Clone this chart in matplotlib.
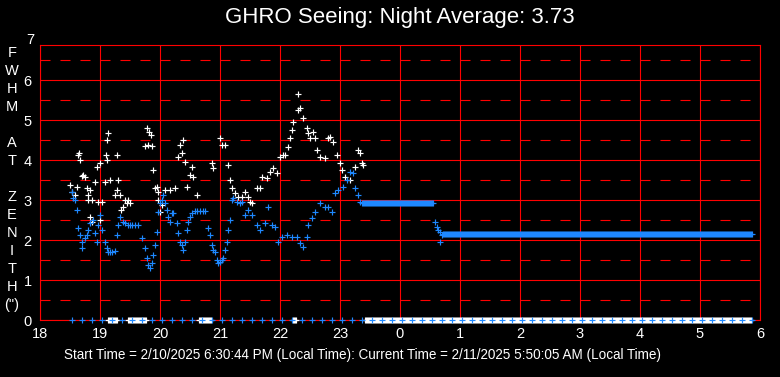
"""
Seeing chart: FWHM at zenith over the night (raw points in white,
running average in blue), red grid on black.
"""

import numpy as np
import matplotlib
matplotlib.use("Agg")
import matplotlib.pyplot as plt

plt.rcParams["font.family"] = ["Liberation Sans", "DejaVu Sans"]

TITLE = "GHRO Seeing: Night Average: 3.73"
FOOTER = ("Start Time = 2/10/2025 6:30:44 PM (Local Time): "
          "Current Time = 2/11/2025 5:50:05 AM (Local Time)")
YLABEL_LINES = ["F", "W", "H", "M", "", "A", "T", "", "Z", "E", "N", "I", "T", "H", "(\")"]

X_TICKS = list(range(18, 31))
X_TICK_LABELS = ["18", "19", "20", "21", "22", "23", "0", "1", "2", "3", "4", "5", "6"]
Y_TICKS = list(range(0, 7))

# raw seeing measurements (hours since midnight of start day, arcsec)
white_hours = [18.50, 18.53, 18.58, 18.62, 18.63, 18.65, 18.67, 18.70, 18.72, 18.75,
               18.78, 18.80, 18.80, 18.83, 18.83, 18.87, 18.87, 18.92, 18.95, 18.97,
               19.00, 19.00, 19.03, 19.08, 19.10, 19.12, 19.12, 19.13, 19.17, 19.25,
               19.28, 19.28, 19.30, 19.33, 19.35, 19.38, 19.42, 19.45, 19.47, 19.50,
               19.75, 19.78, 19.80, 19.82, 19.85, 19.87, 19.88, 19.92, 19.95, 19.97,
               19.97, 20.00, 20.03, 20.08, 20.17, 20.25, 20.30, 20.33, 20.37, 20.38,
               20.42, 20.45, 20.50, 20.53, 20.55, 20.62, 20.87, 20.88, 21.00, 21.03,
               21.08, 21.13, 21.17, 21.20, 21.25, 21.30, 21.37, 21.42, 21.47, 21.50,
               21.53, 21.62, 21.67, 21.70, 21.78, 21.83, 21.88, 21.95, 22.00, 22.05,
               22.08, 22.13, 22.17, 22.20, 22.22, 22.30, 22.30, 22.33, 22.38, 22.45,
               22.47, 22.50, 22.55, 22.58, 22.62, 22.67, 22.75, 22.80, 22.83, 22.88,
               22.95, 23.00, 23.03, 23.08, 23.17, 23.25, 23.30, 23.33, 23.37, 23.38]
white_vals = [3.37, 3.20, 3.13, 3.33, 4.12, 4.17, 4.00, 3.60, 3.63, 3.58,
              3.30, 3.00, 3.13, 2.58, 3.25, 2.45, 3.00, 3.45, 3.83, 2.95,
              2.50, 3.93, 2.95, 3.45, 4.12, 4.00, 4.50, 4.67, 3.50, 3.13,
              3.25, 4.13, 3.50, 3.13, 2.75, 2.83, 3.00, 2.93, 3.00, 2.93,
              4.35, 4.80, 4.38, 4.70, 4.63, 4.35, 3.75, 3.30, 3.33, 3.20,
              3.00, 2.70, 2.88, 3.25, 3.25, 3.30, 4.08, 4.38, 4.18, 4.50,
              3.95, 3.33, 3.63, 3.83, 3.58, 3.13, 3.93, 3.80, 4.55, 4.38,
              4.38, 3.88, 3.50, 3.30, 3.18, 3.08, 3.08, 3.20, 3.08, 2.95,
              2.93, 3.30, 3.30, 3.58, 3.55, 3.70, 3.80, 3.68, 4.08, 4.13,
              4.13, 4.33, 4.55, 4.75, 4.95, 5.65, 5.25, 5.30, 5.05, 4.80,
              4.68, 4.55, 4.70, 4.55, 4.25, 4.08, 4.05, 4.55, 4.58, 4.45,
              4.13, 3.93, 3.75, 3.58, 3.50, 3.83, 4.25, 4.18, 3.93, 3.88]

# averaged seeing
blue_hours = [18.53, 18.55, 18.58, 18.62, 18.63, 18.67, 18.70, 18.70, 18.75, 18.78,
              18.80, 18.83, 18.88, 18.92, 18.95, 18.97, 19.00, 19.03, 19.08, 19.12,
              19.13, 19.17, 19.20, 19.25, 19.28, 19.30, 19.33, 19.38, 19.42, 19.47,
              19.50, 19.53, 19.58, 19.63, 19.70, 19.75, 19.78, 19.80, 19.83, 19.87,
              19.88, 19.92, 19.95, 19.97, 20.00, 20.03, 20.05, 20.08, 20.12, 20.13,
              20.17, 20.20, 20.22, 20.28, 20.30, 20.33, 20.37, 20.38, 20.42, 20.45,
              20.47, 20.50, 20.53, 20.58, 20.62, 20.67, 20.72, 20.75, 20.80, 20.83,
              20.87, 20.88, 20.92, 20.95, 20.97, 21.00, 21.03, 21.05, 21.08, 21.12,
              21.13, 21.17, 21.20, 21.22, 21.28, 21.33, 21.37, 21.42, 21.47, 21.53,
              21.62, 21.67, 21.75, 21.80, 21.87, 21.92, 21.97, 22.03, 22.12, 22.20,
              22.28, 22.33, 22.38, 22.45, 22.47, 22.53, 22.58, 22.67, 22.75, 22.80,
              22.87, 22.92, 22.97, 23.05, 23.12, 23.17, 23.22, 23.25, 23.30, 23.33,
              24.58, 24.62, 24.63, 24.67, 24.67, 24.70]
blue_vals = [3.20, 3.05, 3.00, 2.75, 2.30, 2.13, 1.95, 1.80, 2.05, 2.13,
             2.25, 2.43, 2.50, 2.18, 1.95, 2.38, 2.63, 2.25, 1.95, 1.80,
             1.70, 1.70, 1.70, 1.73, 2.13, 2.38, 2.58, 2.45, 2.43, 2.38,
             2.38, 2.38, 2.38, 2.38, 2.05, 1.80, 1.55, 1.38, 1.30, 1.43,
             1.63, 1.88, 2.20, 2.70, 2.93, 3.00, 3.13, 2.93, 2.75, 2.58,
             2.45, 2.68, 2.68, 2.43, 2.18, 1.95, 1.88, 1.75, 1.95, 2.25,
             2.45, 2.58, 2.68, 2.73, 2.73, 2.73, 2.73, 2.73, 2.30, 2.13,
             1.88, 1.75, 1.70, 1.50, 1.43, 1.45, 1.50, 1.55, 1.75, 1.95,
             2.25, 2.50, 3.00, 3.05, 2.95, 2.93, 2.95, 2.63, 2.75, 2.63,
             2.38, 2.25, 2.43, 2.83, 2.38, 2.33, 1.95, 2.08, 2.13, 2.08,
             2.08, 1.93, 1.83, 2.08, 2.38, 2.55, 2.70, 2.93, 2.83, 2.83,
             2.70, 3.18, 3.25, 3.33, 3.50, 3.70, 3.68, 3.30, 3.13, 2.95,
             2.45, 2.33, 2.25, 2.20, 1.95, 2.13]

# averaged value held constant while no new data arrived (start, end, value)
blue_flat_segments = [(23.37, 24.57, 2.93), (24.72, 29.87, 2.14)]
# failed measurements plotted at zero (start, end)
white_zero_segments = [(19.13, 19.28), (19.47, 19.78), (20.65, 20.85),
                       (22.22, 22.28), (23.42, 29.87)]
blue_zero_start, blue_zero_end = 18.53, 29.87

BLUE = "#1e88ff"
RED = "#ff0000"
W, H = 780, 377

fig = plt.figure(figsize=(W / 100, H / 100), dpi=100, facecolor="black")
ax = fig.add_axes([40 / W, (H - 320) / H, 720 / W, 275 / H], facecolor="black")

mk = dict(linestyle="none", marker="+", markersize=5, markeredgewidth=0.85)

# zero row (drawn unclipped so the crosses sit on the bottom border)
for a, b in white_zero_segments:
    t = np.arange(a, b, 1 / 60)
    ax.plot(t, np.zeros_like(t), color="white", zorder=3, clip_on=False,
            **dict(mk, markersize=4))
t0 = np.arange(blue_zero_start, blue_zero_end, 1 / 6)
ax.plot(t0, np.zeros_like(t0), color=BLUE, zorder=4, clip_on=False,
        **dict(mk, markersize=4))

ax.plot(white_hours, white_vals, color="white", zorder=3, **mk)
ax.plot(blue_hours, blue_vals, color=BLUE, zorder=4, **mk)
for a, b, v in blue_flat_segments:
    t = np.arange(a, b, 1 / 60)
    ax.plot(t, np.full_like(t, v), color=BLUE, zorder=4, **mk)

ax.set_xlim(18, 30)
ax.set_ylim(0, 6.875)
ax.set_xticks(X_TICKS)
ax.set_xticklabels(X_TICK_LABELS)
ax.set_yticks(Y_TICKS)
ax.set_yticks(np.arange(0.5, 7, 1), minor=True)
ax.tick_params(which="both", length=0, colors="white", labelsize=10.5)
ax.tick_params(axis="x", pad=5)
ax.tick_params(axis="y", pad=6)
ax.grid(which="major", color=RED, linewidth=0.8, zorder=1)
ax.grid(which="minor", axis="y", color=RED, linewidth=0.8,
        linestyle=(0, (9, 9)), zorder=1)
ax.set_axisbelow(True)
for s in ax.spines.values():
    s.set_color(RED)
    s.set_linewidth(0.8)

# the "7" label sits above the plotting area
ax.text(-0.008, 7, "7", transform=ax.get_yaxis_transform(), color="white",
        fontsize=10.5, ha="right", va="center", clip_on=False)

fig.text(400 / W, 1 - 18 / H, TITLE, color="white", fontsize=16,
         ha="center", va="center")
fig.text(362 / W, 1 - 355 / H, FOOTER, color="white", fontsize=9.75,
         ha="center", va="center")

for i, ch in enumerate(YLABEL_LINES):
    if ch:
        fig.text(12 / W, 1 - (53 + 18 * i) / H, ch, color="white", fontsize=10.5,
                 ha="center", va="center")

fig.savefig("out.png", dpi=100, facecolor="black")
